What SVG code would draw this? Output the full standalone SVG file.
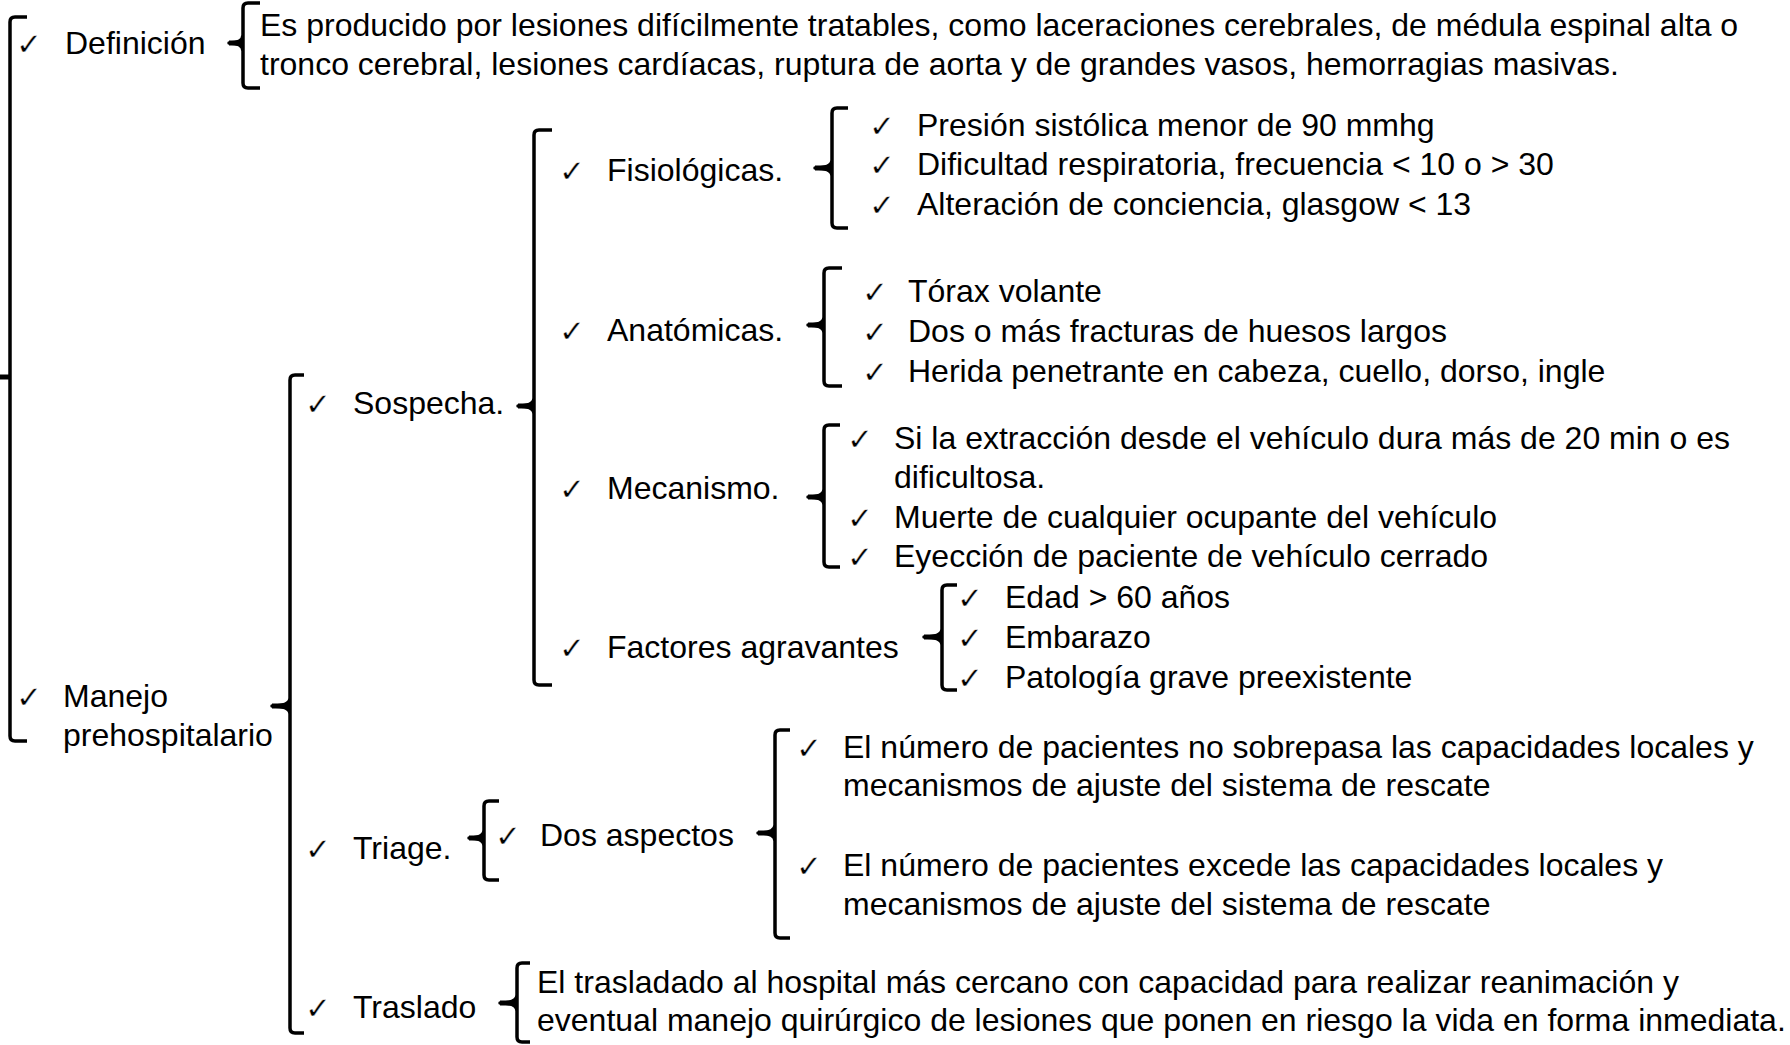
<svg xmlns="http://www.w3.org/2000/svg" width="1790" height="1045" viewBox="0 0 1790 1045">
<style>
.t{font-family:"Liberation Sans",Arial,sans-serif;font-size:32px;fill:#000}
.ck{font-family:"DejaVu Sans",sans-serif;font-size:31px;fill:#000;stroke:#fff;stroke-width:0.4}
.br{fill:none;stroke:#000;stroke-width:3.5;stroke-linejoin:round}
.tk{fill:none;stroke:#000;stroke-width:5}
</style>
<rect width="1790" height="1045" fill="#fff"/>
<g id="connectors">
<path class="br" d="M27,17 L15,17 Q10,17 10,22 L10,736 Q10,741 15,741 L27,741"/><path class="tk" d="M0,377 H11"/>
<path class="br" d="M260,3 L248,3 Q243,3 243,8 L243,83 Q243,88 248,88 L260,88 M243,35 Q243,43 229,43 Q243,43 243,51"/><path class="tk" d="M229,43 H244"/>
<path class="br" d="M304,375 L295,375 Q290,375 290,380 L290,1028 Q290,1033 295,1033 L304,1033 M290,698 Q290,706 272,706 Q290,706 290,714"/><path class="tk" d="M272,706 H291"/>
<path class="br" d="M552,130 L539,130 Q534,130 534,135 L534,680 Q534,685 539,685 L552,685 M534,398 Q534,406 518,406 Q534,406 534,414"/><path class="tk" d="M518,406 H535"/>
<path class="br" d="M848,108 L837,108 Q832,108 832,113 L832,223 Q832,228 837,228 L848,228 M832,160 Q832,168 815,168 Q832,168 832,176"/><path class="tk" d="M815,168 H833"/>
<path class="br" d="M842,268 L829,268 Q824,268 824,273 L824,381 Q824,386 829,386 L842,386 M824,317 Q824,325 808,325 Q824,325 824,333"/><path class="tk" d="M808,325 H825"/>
<path class="br" d="M840,425 L829,425 Q824,425 824,430 L824,562 Q824,567 829,567 L840,567 M824,489 Q824,497 808,497 Q824,497 824,505"/><path class="tk" d="M808,497 H825"/>
<path class="br" d="M957,585 L947,585 Q942,585 942,590 L942,685 Q942,690 947,690 L957,690 M942,629 Q942,637 924,637 Q942,637 942,645"/><path class="tk" d="M924,637 H943"/>
<path class="br" d="M499,801 L489,801 Q484,801 484,806 L484,875 Q484,880 489,880 L499,880 M484,830 Q484,838 469,838 Q484,838 484,846"/><path class="tk" d="M469,838 H485"/>
<path class="br" d="M790,730 L780,730 Q775,730 775,735 L775,933 Q775,938 780,938 L790,938 M775,825 Q775,833 758,833 Q775,833 775,841"/><path class="tk" d="M758,833 H776"/>
<path class="br" d="M530,963 L522,963 Q517,963 517,968 L517,1037 Q517,1042 522,1042 L530,1042 M517,995 Q517,1003 500,1003 Q517,1003 517,1011"/><path class="tk" d="M500,1003 H518"/>
</g>
<g id="definicion"><text class="ck" x="16" y="55">✓</text><text class="t" x="65" y="54">Definición</text></g>
<g id="definicion-texto"><text class="t" x="260" y="36">Es producido por lesiones difícilmente tratables, como laceraciones cerebrales, de médula espinal alta o</text><text class="t" x="260" y="75">tronco cerebral, lesiones cardíacas, ruptura de aorta y de grandes vasos, hemorragias masivas.</text></g>
<g id="manejo"><text class="ck" x="16" y="708">✓</text><text class="t" x="63" y="707">Manejo</text><text class="t" x="63" y="746">prehospitalario</text></g>
<g id="sospecha"><text class="ck" x="305" y="415">✓</text><text class="t" x="353" y="414">Sospecha.</text></g>
<g id="fisiologicas"><text class="ck" x="559" y="182">✓</text><text class="t" x="607" y="181">Fisiológicas.</text></g>
<g id="fis-items">
<text class="ck" x="869" y="137">✓</text><text class="t" x="917" y="136">Presión sistólica menor de 90 mmhg</text>
<text class="ck" x="869" y="176">✓</text><text class="t" x="917" y="175">Dificultad respiratoria, frecuencia &lt; 10 o &gt; 30</text>
<text class="ck" x="869" y="216">✓</text><text class="t" x="917" y="215">Alteración de conciencia, glasgow &lt; 13</text>
</g>
<g id="anatomicas"><text class="ck" x="559" y="342">✓</text><text class="t" x="607" y="341">Anatómicas.</text></g>
<g id="anat-items">
<text class="ck" x="862" y="303">✓</text><text class="t" x="908" y="302">Tórax volante</text>
<text class="ck" x="862" y="343">✓</text><text class="t" x="908" y="342">Dos o más fracturas de huesos largos</text>
<text class="ck" x="862" y="383">✓</text><text class="t" x="908" y="382">Herida penetrante en cabeza, cuello, dorso, ingle</text>
</g>
<g id="mecanismo"><text class="ck" x="559" y="500">✓</text><text class="t" x="607" y="499">Mecanismo.</text></g>
<g id="mec-items">
<text class="ck" x="847" y="450">✓</text><text class="t" x="894" y="449">Si la extracción desde el vehículo dura más de 20 min o es</text>
<text class="t" x="894" y="488">dificultosa.</text>
<text class="ck" x="847" y="529">✓</text><text class="t" x="894" y="528">Muerte de cualquier ocupante del vehículo</text>
<text class="ck" x="847" y="568">✓</text><text class="t" x="894" y="567">Eyección de paciente de vehículo cerrado</text>
</g>
<g id="factores"><text class="ck" x="559" y="659">✓</text><text class="t" x="607" y="658">Factores agravantes</text></g>
<g id="fact-items">
<text class="ck" x="957" y="609">✓</text><text class="t" x="1005" y="608">Edad &gt; 60 años</text>
<text class="ck" x="957" y="649">✓</text><text class="t" x="1005" y="648">Embarazo</text>
<text class="ck" x="957" y="689">✓</text><text class="t" x="1005" y="688">Patología grave preexistente</text>
</g>
<g id="triage"><text class="ck" x="305" y="860">✓</text><text class="t" x="353" y="859">Triage.</text></g>
<g id="dos-aspectos"><text class="ck" x="495" y="847">✓</text><text class="t" x="540" y="846">Dos aspectos</text></g>
<g id="dos-items">
<text class="ck" x="796" y="759">✓</text><text class="t" x="843" y="758">El número de pacientes no sobrepasa las capacidades locales y</text>
<text class="t" x="843" y="796">mecanismos de ajuste del sistema de rescate</text>
<text class="ck" x="796" y="877">✓</text><text class="t" x="843" y="876">El número de pacientes excede las capacidades locales y</text>
<text class="t" x="843" y="915">mecanismos de ajuste del sistema de rescate</text>
</g>
<g id="traslado"><text class="ck" x="305" y="1019">✓</text><text class="t" x="353" y="1018">Traslado</text></g>
<g id="traslado-texto"><text class="t" x="537" y="993">El trasladado al hospital más cercano con capacidad para realizar reanimación y</text><text class="t" x="537" y="1031">eventual manejo quirúrgico de lesiones que ponen en riesgo la vida en forma inmediata.</text></g>
</svg>
